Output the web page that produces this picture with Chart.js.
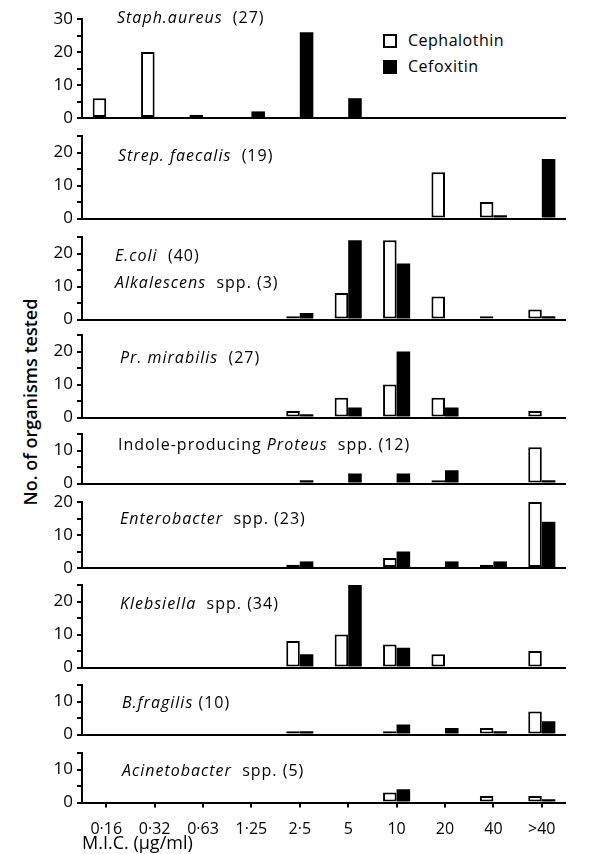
<!DOCTYPE html>
<html>
<head>
<meta charset="utf-8">
<script src="https://cdn.jsdelivr.net/npm/chart.js@4.4.0/dist/chart.umd.min.js"></script>
<style>
  body { margin: 0; background: #fff; width: 604px; height: 854px; position: relative; overflow: hidden;
         font-family: "Open Sans", sans-serif; color: #000; }
  .wrap { position: absolute; left: 40px; width: 540px; }
  .title { position: absolute; font-size: 16px; letter-spacing: 1px; line-height: 27px; white-space: nowrap; }
  #ylabel { position: absolute; left: 30px; top: 402px; transform: translate(-50%, -50%) rotate(-90deg);
            font-size: 18px; font-weight: 600; white-space: nowrap; }
  .key { position: absolute; left: 383px; font-size: 16px; letter-spacing: 0.5px; line-height: 16px; white-space: nowrap; }
  .key span { display: inline-block; width: 14px; height: 14px; box-sizing: border-box; border: 2px solid #000;
              vertical-align: -2px; margin-right: 11px; }
</style>
</head>
<body>
<div id="ylabel">No. of organisms tested</div>
<div class="key" style="top:32px"><span style="background:#fff"></span>Cephalothin</div>
<div class="key" style="top:58px"><span style="background:#000"></span>Cefoxitin</div>

<script>
const micLabels = ["0·16", "0·32", "0·63", "1·25", "2·5", "5", "10", "20", "40", ">40"];

// counts per MIC, Cephalothin / Cefoxitin
const staphCeph = [6, 20, 1, 0, 0, 0, 0, 0, 0, 0];
const staphCef  = [0, 0, 0, 2, 26, 6, 0, 0, 0, 0];
const strepCeph = [0, 0, 0, 0, 0, 0, 0, 14, 5, 0];
const strepCef  = [0, 0, 0, 0, 0, 0, 0, 0, 1, 18];
const ecoliCeph = [0, 0, 0, 0, 1, 8, 24, 7, 1, 3];
const ecoliCef  = [0, 0, 0, 0, 2, 24, 17, 0, 0, 1];
const mirabCeph = [0, 0, 0, 0, 2, 6, 10, 6, 0, 2];
const mirabCef  = [0, 0, 0, 0, 1, 3, 20, 3, 0, 0];
const indolCeph = [0, 0, 0, 0, 0, 0, 0, 1, 0, 11];
const indolCef  = [0, 0, 0, 0, 1, 3, 3, 4, 0, 1];
const enterCeph = [0, 0, 0, 0, 1, 0, 3, 0, 1, 20];
const enterCef  = [0, 0, 0, 0, 2, 0, 5, 2, 2, 14];
const klebsCeph = [0, 0, 0, 0, 8, 10, 7, 4, 0, 5];
const klebsCef  = [0, 0, 0, 0, 4, 25, 6, 0, 0, 0];
const fragiCeph = [0, 0, 0, 0, 1, 0, 1, 0, 2, 7];
const fragiCef  = [0, 0, 0, 0, 1, 0, 3, 2, 1, 4];
const acineCeph = [0, 0, 0, 0, 0, 0, 3, 0, 2, 2];
const acineCef  = [0, 0, 0, 0, 0, 0, 4, 0, 0, 1];

const panelTitles = [
  "<i>Staph.aureus</i>&nbsp; (27)",
  "<i>Strep. faecalis</i>&nbsp; (19)",
  "<i>E.coli</i>&nbsp; (40)<br><i>Alkalescens</i>&nbsp; spp. (3)",
  "<i>Pr. mirabilis</i>&nbsp; (27)",
  "Indole-producing <i>Proteus</i>&nbsp; spp. (12)",
  "<i>Enterobacter</i>&nbsp; spp. (23)",
  "<i>Klebsiella</i>&nbsp; spp. (34)",
  "<i>B.fragilis</i> (10)",
  "<i>Acinetobacter</i>&nbsp; spp. (5)"
];
const panelMax = [30, 25, 25, 25, 15, 20, 25, 15, 15];

const cephSeries = [staphCeph, strepCeph, ecoliCeph, mirabCeph, indolCeph, enterCeph, klebsCeph, fragiCeph, acineCeph];
const cefSeries  = [staphCef, strepCef, ecoliCef, mirabCef, indolCef, enterCef, klebsCef, fragiCef, acineCef];

// page layout
const baseY = [118, 218, 319, 417, 483, 568, 667, 734, 802];
const titleY = [4, 142, 242, 344, 431, 505, 590, 689, 757];
const titleX = [117, 118, 115, 120, 118, 120, 120, 122, 122];
const unit = 3.3;
const padTop = 18;
const padBottom = 18;
const font = { family: "Open Sans", size: 17 };

cephSeries.forEach((ceph, i) => {
  const last = i === cephSeries.length - 1;
  const top = baseY[i] - panelMax[i] * unit - padTop;
  const below = last ? 52 : padBottom;

  const wrap = document.createElement("div");
  wrap.className = "wrap";
  wrap.style.top = top + "px";
  wrap.style.height = (baseY[i] + below - top) + "px";
  const canvas = document.createElement("canvas");
  wrap.appendChild(canvas);
  document.body.appendChild(wrap);

  const t = document.createElement("div");
  t.className = "title";
  t.style.left = titleX[i] + "px";
  t.style.top = titleY[i] + "px";
  t.innerHTML = panelTitles[i];
  document.body.appendChild(t);

  const xScale = {
    display: last,
    grid: { display: true, drawOnChartArea: false, drawTicks: true, tickLength: 5,
            offset: false, color: "#000", lineWidth: 2 },
    border: { display: false },
    ticks: { color: "#000", font: { family: "Open Sans", size: 16 }, padding: 12, maxRotation: 0, autoSkip: false },
    title: { display: true, text: "M.I.C. (μg/ml)", align: "start", color: "#000",
             font: { family: "Open Sans", size: 18 }, padding: 0 }
  };
  if (last) xScale.afterFit = s => { s.height = 52; };

  new Chart(canvas, {
    type: "bar",
    data: {
      labels: micLabels,
      datasets: [
        { label: "Cephalothin", data: ceph.map(v => v || null),
          backgroundColor: "#fff", borderColor: "#000", borderWidth: 2, borderSkipped: false },
        { label: "Cefoxitin", data: cefSeries[i].map(v => v || null),
          backgroundColor: "#000", borderWidth: 0 }
      ]
    },
    options: {
      responsive: true,
      maintainAspectRatio: false,
      animation: false,
      layout: { padding: { top: padTop, right: 14, bottom: last ? 0 : padBottom, left: 0 } },
      datasets: { bar: { categoryPercentage: 0.56, barPercentage: 1 } },
      plugins: { legend: { display: false }, tooltip: { enabled: false } },
      scales: {
        x: xScale,
        y: {
          min: 0,
          max: panelMax[i],
          ticks: { stepSize: 5, autoSkip: false, color: "#000", font: font, padding: 4,
                   callback: v => v % 10 === 0 ? v : "" },
          grid: { color: c => c.tick && c.tick.value === 0 ? "#000" : "rgba(0,0,0,0)",
                  lineWidth: 2, drawTicks: true, tickLength: 5, tickColor: "#000", tickWidth: 2 },
          border: { display: true, color: "#000", width: 2 },
          afterFit: s => { s.width = 42; }
        }
      }
    }
  });
});
</script>
</body>
</html>
